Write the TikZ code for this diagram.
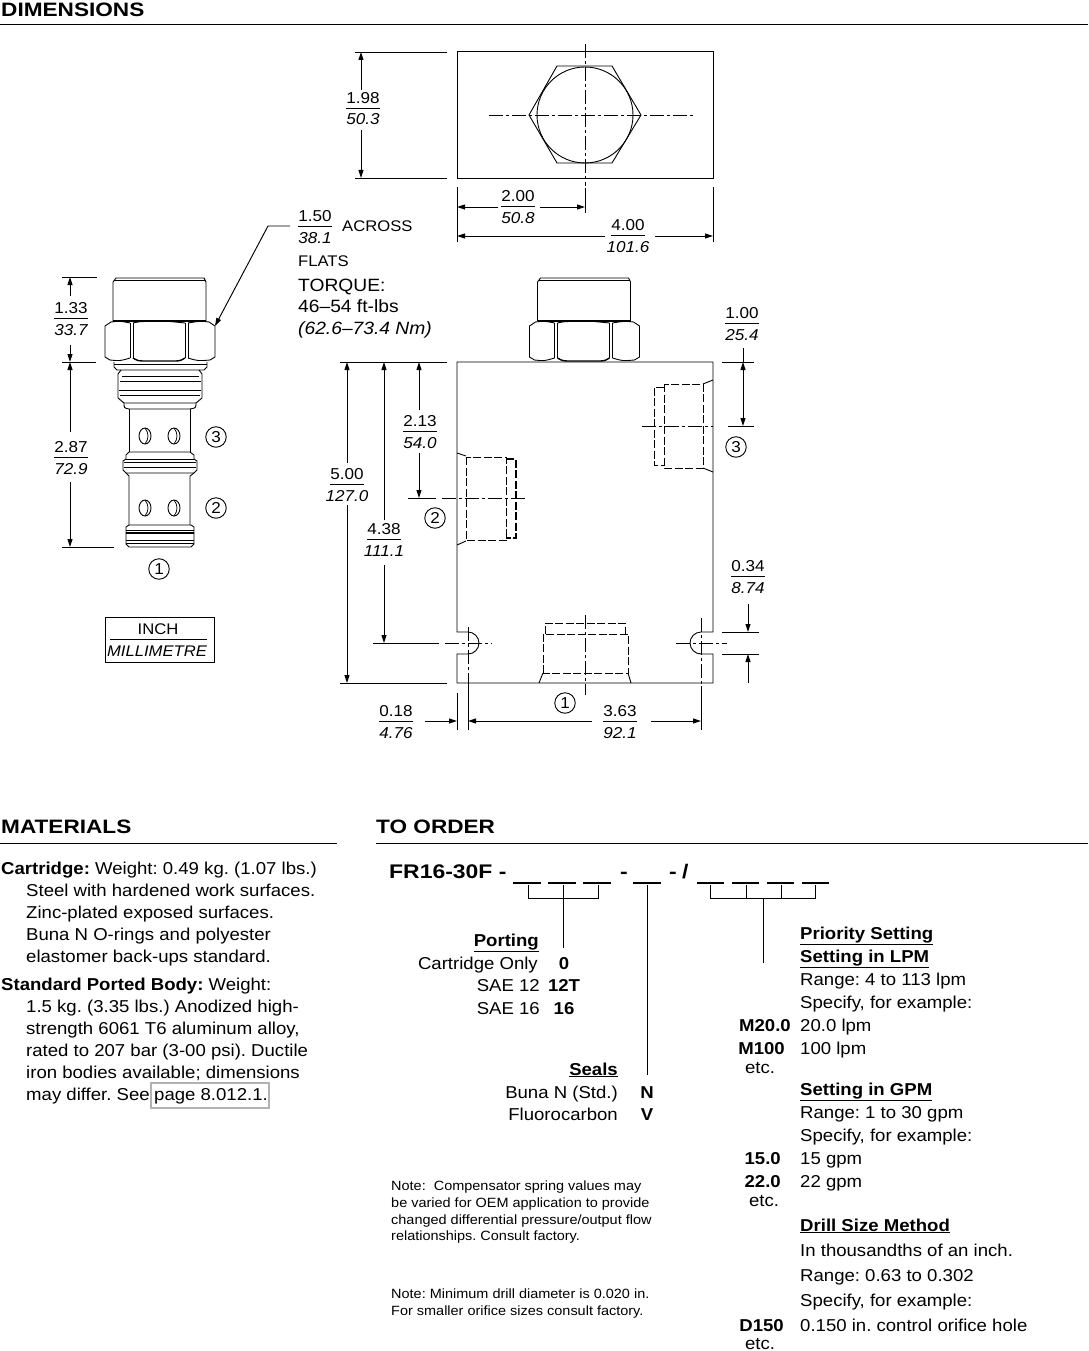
\documentclass[tikz,border=0pt]{standalone}
\usepackage{fontspec}
\setmainfont[FakeStretch=1.08]{Liberation Sans}
\newfontfamily\wide[FakeStretch=1.165]{Liberation Sans}
\usetikzlibrary{arrows.meta}
\newcounter{tn}
\tikzset{
  txt/.style={inner sep=0pt,font=\frenchspacing\fontsize{17.2}{20}\selectfont},
  big/.style={inner sep=0pt,font=\frenchspacing\fontsize{17.8}{20}\selectfont},
  lab/.style={inner sep=0pt,font=\frenchspacing\fontsize{15.4}{18}\selectfont},
  dimt/.style={inner sep=0pt,font=\frenchspacing\fontsize{15.8}{20}\selectfont},
  note/.style={inner sep=0pt,font=\frenchspacing\fontsize{13.4}{16}\selectfont},
  head/.style={inner sep=0pt,font=\wide\fontsize{19.4}{26}\selectfont\bfseries},
  codet/.style={inner sep=0pt,font=\wide\fontsize{19.7}{24}\selectfont\bfseries},
  num/.style={draw,circle,line width=0.9pt,inner sep=0pt,minimum size=20.5pt,font=\fontsize{15.8}{18}\selectfont},
  ln/.style={line width=0.9pt,line cap=butt},
  fine/.style={line width=0.75pt},
  rul/.style={line width=0.9pt},
  dsh/.style={line width=0.95pt,dash pattern=on 8pt off 2.5pt},
  cl/.style={line width=0.95pt,dash pattern=on 14pt off 3pt on 3pt off 3pt},
  dm/.style={line width=0.95pt},
  arr/.style={line width=0.95pt,-{Triangle[length=8pt,width=5pt]}},
}
\newcommand\TL[4][txt]{\stepcounter{tn}\node[#1,anchor=base west] (t\thetn) at (#2,#3) {#4};}
\newcommand\TR[4][txt]{\stepcounter{tn}\node[#1,anchor=base east] (t\thetn) at (#2,#3) {#4};}
\newcommand\TC[4][txt]{\stepcounter{tn}\node[#1,anchor=base] (t\thetn) at (#2,#3) {#4};}
\newcommand\FR[5][34]{\stepcounter{tn}%
  \node[dimt,anchor=base] (t\thetn) at (#2,#3-4.5) {#4};%
  \stepcounter{tn}%
  \node[dimt,anchor=base] (t\thetn) at (#2,#3+17) {\itshape #5};%
  \draw[rul] (#2-#1/2,#3) -- (#2+#1/2,#3);}
\newcommand\CN[3]{\stepcounter{tn}\node[num] (t\thetn) at (#1,#2) {#3};}
\newcommand\Nut{%
  \draw[ln] (113,321) -- (113,282) -- (116,278) -- (204,278) -- (206,282) -- (206,321);
  \draw[fine] (114,280.5) -- (205,280.5);
  \draw[line width=1.5pt] (113,321) -- (206,321);
  \draw[ln] (111,322) -- (105,326) -- (105,357) -- (110,360);
  \draw[ln] (209,322) -- (215,326) -- (215,357) -- (210,360);
  \draw[ln] (111,322) .. controls (120,321) .. (130,323);
  \draw[ln] (209,322) .. controls (200,321) .. (188,323);
  \draw[fine] (130,323) -- (130,358) (133,323) -- (133,358);
  \draw[fine] (185,323) -- (185,358) (188,323) -- (188,358);
  \draw[ln] (133,323) .. controls (140,321.5) .. (150,321.5) (170,321.5) .. controls (178,321.5) .. (185,323);
  \draw[ln] (110,360) .. controls (120,361) .. (130,358) (188,358) .. controls (198,361) .. (210,360);
  \draw[line width=1.4pt] (133,358) .. controls (138,361) .. (148,361) -- (172,361) .. controls (180,361) .. (185,358);
}
\begin{document}
\begin{tikzpicture}[x=1pt,y=-1pt]
\useasboundingbox (0,0) rectangle (1088,1351);
% ---- section headings
\TL[head]{1}{17}{DIMENSIONS}
\draw[rul] (0,24.5) -- (1088,24.5);
\TL[head]{1}{833}{MATERIALS}
\draw[rul] (0,843) -- (337,843);
\TL[head]{376}{833}{TO ORDER}
\draw[rul] (376,843) -- (1088,843);

% ---- top view
\draw[ln] (457.5,51.5) rectangle (713.5,178.5);
\draw[ln] (557,66) -- (612,66) -- (641,115) -- (612,163) -- (557,163) -- (529,115) -- cycle;
\draw[ln] (585,115) circle (48);
\draw[cl] (489,115) -- (693,115);
\draw[cl] (585,44) -- (585,186);
\draw[dm] (355,52) -- (447,52) (355,178) -- (447,178);
\draw[arr] (361,90) -- (361,52);
\draw[arr] (361,130) -- (361,178);
\FR{363}{108}{1.98}{50.3}
\draw[dm] (457,187) -- (457,242) (713,187) -- (713,242) (585,188) -- (585,213);
\draw[arr] (498,207) -- (457,207);
\draw[arr] (540,207) -- (585,207);
\FR{518}{206}{2.00}{50.8}
\draw[arr] (605,236) -- (457,236);
\draw[arr] (655,236) -- (713,236);
\FR{628}{235}{4.00}{101.6}

% ---- hex note
\FR{315}{226}{1.50}{38.1}
\TL[lab]{342}{231}{ACROSS}
\TL[lab]{298}{266}{FLATS}
\TL[big]{298}{291}{TORQUE:}
\TL[big]{298}{312}{46–54 ft-lbs}
\TL[big]{298}{334}{\itshape (62.6–73.4 Nm)}
\draw[arr] (290,226) -- (268,226) -- (215,326);

% ---- cartridge
\Nut
\draw[ln] (114,362) -- (114,367) -- (117,370) -- (204,370) -- (207,367) -- (207,362);
\draw[fine] (114,364) -- (207,364);
\draw[ln] (121,370) -- (118,374) -- (118,398) -- (124,403) -- (196,403) -- (202,398) -- (202,374) -- (199,370);
\draw[fine] (122,376) -- (199,376) (120,381) -- (201,381) (119,390) -- (201,390) (120,395) -- (200,395);
\draw[ln] (124,403) .. controls (124,408) .. (129,409) -- (190,409) .. controls (196,408) .. (196,403);
\draw[ln] (129,409) -- (129,452) (190,409) -- (190,452);
\draw[ln] (145,436) ellipse (6 and 8) (174,436) ellipse (6 and 8);
\draw[fine] (145,428) .. controls (149,433) and (149,439) .. (145,444) (174,428) .. controls (178,433) and (178,439) .. (174,444);
\draw[ln] (129,452) -- (126,455) -- (126,459) -- (123,461) -- (123,470) -- (126,473) -- (194,473) -- (197,470) -- (197,461) -- (194,459) -- (194,455) -- (190,452) -- cycle;
\draw[fine] (126,459) -- (194,459) (124,462) -- (196,462) (124,467) -- (196,467);
\draw[ln] (129,476) -- (129,525) (190,476) -- (190,525) (126,473) -- (129,476) (194,473) -- (190,476);
\draw[ln] (145,508) ellipse (6 and 8) (174,508) ellipse (6 and 8);
\draw[fine] (145,500) .. controls (149,505) and (149,511) .. (145,516) (174,500) .. controls (178,505) and (178,511) .. (174,516);
\draw[ln] (129,525) -- (126,527) -- (126,544) -- (129,547) -- (191,547) -- (194,544) -- (194,527) -- (191,525) -- cycle;
\draw[fine] (126,530) -- (194,530) (126,540) -- (194,540) (126,543) -- (194,543);
\draw[line width=1.3pt] (126,533) -- (194,533);
\draw[dm] (62,277) -- (97,277) (62,362) -- (96,362) (62,547) -- (114,547);
\draw[arr] (70,296) -- (70,277);
\draw[arr] (70,345) -- (70,362);
\draw[arr] (70,432) -- (70,362);
\draw[arr] (70,482) -- (70,547);
\FR{71}{318}{1.33}{33.7}
\FR{71}{457}{2.87}{72.9}
\CN{216}{437}{3}
\CN{216}{508}{2}
\CN{159}{569}{1}
\draw[fine] (105,617) rectangle (214,662);
\TC[lab]{158}{634}{INCH}
\draw[rul] (110,639) -- (207,639);
\TC[lab]{157}{656}{\itshape MILLIMETRE}

% ---- ported body
\begin{scope}[shift={(424.5,0)}]
\Nut
\end{scope}
\draw[ln] (457,362) -- (713,362) -- (713,632) -- (701,632)
  .. controls (695,632) and (690,637) .. (690,643)
  .. controls (690,649) and (695,654) .. (701,654)
  -- (713,654) -- (713,683) -- (457,683) -- (457,654) -- (468,654)
  .. controls (474,654) and (479,649) .. (479,643)
  .. controls (479,637) and (474,632) .. (468,632)
  -- (457,632) -- cycle;
% port 3
\draw[dsh] (664,387) -- (654,387) -- (654,465) -- (664,465);
\draw[dsh] (664,384) rectangle (703,468);
\draw[ln] (703,384) -- (713,380) (703,468) -- (713,472);
\draw[cl] (642,426) -- (713,426);
\draw[dm] (722,362) -- (754,362) (728,426) -- (754,426);
\draw[dm] (743,348) -- (743,362);
\draw[arr] (743,394) -- (743,362);
\draw[arr] (743,394) -- (743,426);
\FR{742}{323}{1.00}{25.4}
\CN{736}{447}{3}
% port 2
\draw[dsh] (466,457) rectangle (506,540);
\draw[dsh,line width=1.3pt] (506,459) -- (516,459) -- (516,538) -- (506,538);
\draw[ln] (457,453) -- (466,456) (457,545) -- (466,541);
\draw[cl] (442,498) -- (527,498);
\draw[dm] (408,498) -- (436,498);
\CN{435}{518}{2}
% port 1
\draw[dsh] (545,634) -- (545,623) -- (625,623) -- (625,634);
\draw[dsh] (543,673) -- (543,634) -- (628,634) -- (628,673) -- cycle;
\draw[ln] (543,673) -- (539,683) (628,673) -- (631,683);
\draw[cl] (585,615) -- (585,695);
\CN{565}{703}{1}
% notches
\draw[cl] (445,643) -- (492,643);
\draw[cl] (676,643) -- (727,643);
\draw[dm] (373,643) -- (439,643);
\draw[cl] (468,627) -- (468,686);
\draw[cl] (701,618) -- (701,686);
\draw[dm] (468,686) -- (468,730) (701,686) -- (701,730) (457,693) -- (457,730);
% dims
\draw[dm] (340,362) -- (447,362) (340,683) -- (447,683);
\draw[arr] (347,463) -- (347,362);
\draw[arr] (347,505) -- (347,683);
\FR{347}{484}{5.00}{127.0}
\draw[arr] (384,520) -- (384,362);
\draw[arr] (384,565) -- (384,643);
\FR{384}{539}{4.38}{111.1}
\draw[arr] (419,410) -- (419,362);
\draw[arr] (419,453) -- (419,498);
\FR{420}{431}{2.13}{54.0}
\draw[dm] (722,632) -- (759,632) (722,654) -- (759,654);
\draw[arr] (748,604) -- (748,632);
\draw[arr] (748,683) -- (748,654);
\FR{748}{576}{0.34}{8.74}
\draw[arr] (425,721) -- (457,721);
\draw[arr] (592,721) -- (468,721);
\draw[arr] (651,721) -- (701,721);
\FR{396}{721}{0.18}{4.76}
\FR{620}{721}{3.63}{92.1}

% ---- materials
\TL{1}{874}{\textbf{Cartridge:} Weight: 0.49 kg. (1.07 lbs.)}
\TL{26}{896}{Steel with hardened work surfaces.}
\TL{26}{918}{Zinc-plated exposed surfaces.}
\TL{26}{940}{Buna N O-rings and polyester}
\TL{26}{962}{elastomer back-ups standard.}
\TL{1}{990}{\textbf{Standard Ported Body:} Weight:}
\TL{26}{1012}{1.5 kg. (3.35 lbs.) Anodized high-}
\TL{26}{1034}{strength 6061 T6 aluminum alloy,}
\TL{26}{1056}{rated to 207 bar (3-00 psi). Ductile}
\TL{26}{1078}{iron bodies available; dimensions}
\TL{26}{1100}{may differ. See}
\TL{154}{1100}{page 8.012.1.}
\draw[line width=1.3pt,gray!60] (151,1083) rectangle (269,1108);

% ---- order code
\TL[codet]{389}{878}{FR16-30F -}
\TL[codet]{620}{878}{-}
\TL[codet]{669}{878}{-}
\TL[codet]{682}{878}{/}
\draw[line width=1.1pt] (513,883) -- (541,883) (548,883) -- (576,883) (583,883) -- (611,883) (633,883) -- (661,883)
  (697,883) -- (724,883) (732,883) -- (759,883) (767,883) -- (794,883) (802,883) -- (829,883);
\draw[fine] (528,885) -- (528,898) -- (598,898) -- (598,885);
\draw[fine] (563,885) -- (563,948);
\draw[fine] (647,885) -- (647,1075);
\draw[fine] (710,885) -- (710,898) -- (815,898) -- (815,885);
\draw[fine] (746,885) -- (746,898) (781,885) -- (781,898);
\draw[fine] (763,898) -- (763,963);

\TR{539}{946}{\textbf{\underline{Porting}}}
\TR{538}{969}{Cartridge Only}
\TC{564}{969}{\textbf{0}}
\TR{540}{991}{SAE 12}
\TC{564}{991}{\textbf{12T}}
\TR{540}{1014}{SAE 16}
\TC{564}{1014}{\textbf{16}}
\TR{618}{1075}{\textbf{\underline{Seals}}}
\TR{618}{1098}{Buna N (Std.)}
\TC{647}{1098}{\textbf{N}}
\TR{618}{1120}{Fluorocarbon}
\TC{647}{1120}{\textbf{V}}

\TL{800}{939}{\textbf{\underline{Priority Setting}}}
\TL{800}{962}{\textbf{\underline{Setting in LPM}}}
\TL{800}{985}{Range: 4 to 113 lpm}
\TL{800}{1008}{Specify, for example:}
\TR{791}{1031}{\textbf{M20.0}}
\TL{800}{1031}{20.0 lpm}
\TR{785}{1054}{\textbf{M100}}
\TL{800}{1054}{100 lpm}
\TC{760}{1073}{etc.}
\TL{800}{1095}{\textbf{\underline{Setting in GPM}}}
\TL{800}{1118}{Range: 1 to 30 gpm}
\TL{800}{1141}{Specify, for example:}
\TR{781}{1164}{\textbf{15.0}}
\TL{800}{1164}{15 gpm}
\TR{781}{1187}{\textbf{22.0}}
\TL{800}{1187}{22 gpm}
\TC{764}{1206}{etc.}
\TL{800}{1231}{\textbf{\underline{Drill Size Method}}}
\TL{800}{1256}{In thousandths of an inch.}
\TL{800}{1281}{Range: 0.63 to 0.302}
\TL{800}{1306}{Specify, for example:}
\TR{784}{1331}{\textbf{D150}}
\TL{800}{1331}{0.150 in. control orifice hole}
\TC{760}{1349}{etc.}

\TL[note]{391}{1190}{Note:\ \ Compensator spring values may}
\TL[note]{391}{1207}{be varied for OEM application to provide}
\TL[note]{391}{1224}{changed differential pressure/output flow}
\TL[note]{391}{1240}{relationships. Consult factory.}
\TL[note]{391}{1298}{Note: Minimum drill diameter is 0.020 in.}
\TL[note]{391}{1315}{For smaller orifice sizes consult factory.}
\end{tikzpicture}
\end{document}
